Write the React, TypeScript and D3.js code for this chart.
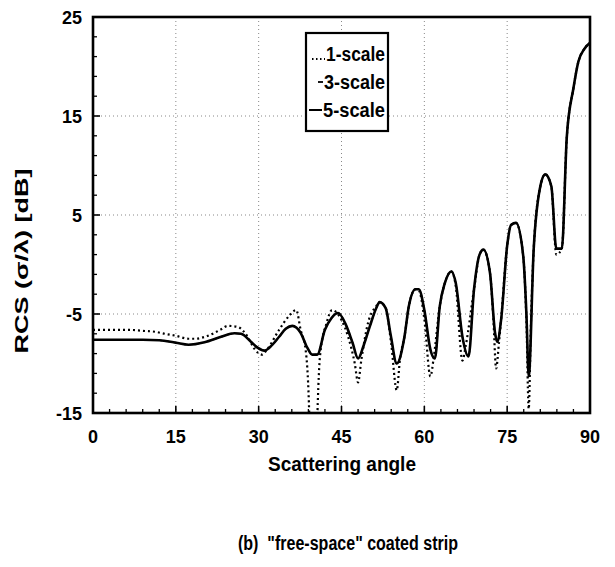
import React from 'react';
import * as d3 from 'd3';

const xTicks = [0, 15, 30, 45, 60, 75, 90];
const yTicks = [25, 15, 5, -5, -15];
const legendLabels = ['1-scale', '3-scale', '5-scale'];
const xTitle = 'Scattering angle';
const yTitle = 'RCS (\u03C3/\u03BB) [dB]';
const caption = '(b)\u00A0\u00A0"free-space" coated strip';

// 5-scale (solid) — 3-scale coincides with it in the picture
const angles5 = [0, 3, 6, 9, 12, 15, 17.3, 20.2, 23.2, 25.6, 26.8, 28.6, 29.8, 31.1, 32.5, 33.7, 34.9, 36.1, 37.6, 38.8, 39.7, 40.6, 42.0, 43.2, 44.4, 45.8, 47.0, 48.0, 49.0, 50.1, 51.3, 51.9, 53.0, 53.9, 55.0, 56.4, 57.2, 58.4, 59.0, 60.0, 61.1, 61.9, 62.8, 63.7, 64.9, 65.7, 66.9, 68.0, 69.0, 70.0, 70.7, 71.9, 72.8, 73.2, 73.9, 75.0, 75.7, 76.6, 77.9, 78.5, 78.9, 79.8, 80.9, 81.9, 83.0, 83.9, 84.9, 85.8, 87.0, 87.9, 89.0, 90.0];
const rcs5 = [-7.6, -7.6, -7.6, -7.6, -7.65, -7.9, -8.1, -7.85, -7.3, -6.95, -7.0, -7.8, -8.4, -8.7, -8.1, -7.3, -6.5, -6.2, -6.9, -8.4, -9.1, -9.1, -6.6, -5.4, -4.9, -6.1, -7.9, -9.5, -8.2, -6.3, -4.4, -3.8, -4.4, -7.1, -10.0, -7.3, -4.2, -2.5, -2.5, -4.6, -8.6, -9.5, -4.2, -1.9, -0.7, -1.9, -7.3, -9.3, -2.5, 1.0, 1.5, -0.9, -6.9, -7.8, -5.6, 1.9, 4.0, 4.2, 0.9, -5.2, -11.3, 1.5, 7.6, 9.1, 7.9, 1.6, 1.6, 12.9, 17.8, 20.5, 21.8, 22.4];
const rcs3 = [-7.6, -7.6, -7.6, -7.6, -7.65, -7.9, -8.1, -7.85, -7.3, -6.95, -7.0, -7.8, -8.4, -8.7, -8.1, -7.3, -6.5, -6.2, -6.9, -8.4, -9.1, -9.1, -6.6, -5.4, -4.9, -6.1, -7.9, -9.5, -8.2, -6.3, -4.4, -3.8, -4.4, -7.1, -10.0, -7.3, -4.2, -2.5, -2.5, -4.6, -8.6, -9.5, -4.2, -1.9, -0.7, -1.9, -7.3, -9.3, -2.5, 1.0, 1.5, -0.9, -6.9, -7.8, -5.6, 1.9, 4.0, 4.2, 0.9, -5.2, -11.3, 1.5, 7.6, 9.1, 7.9, 1.6, 1.6, 12.9, 17.8, 20.5, 21.8, 22.4];

// 1-scale (dotted)
const angles1 = [0, 3, 6.5, 9, 11.3, 13, 15, 17.3, 18.5, 20.8, 23.2, 24.4, 26.2, 28.0, 29.2, 30.6, 31.5, 33.7, 35.5, 36.8, 37.6, 38.5, 39.1, 39.4, 40.4, 40.7, 41.1, 42.3, 43.3, 45.0, 46.2, 47.4, 48.0, 48.6, 49.8, 51.3, 51.9, 53.0, 54.0, 55.0, 55.6, 56.4, 57.2, 58.4, 59.0, 60.0, 61.1, 61.7, 62.8, 63.7, 64.9, 65.7, 66.9, 67.5, 69.0, 70.0, 70.7, 71.9, 72.5, 73.0, 73.5, 73.9, 75.0, 75.7, 76.6, 77.9, 78.5, 78.9, 79.3, 79.8, 80.9, 81.9, 83.0, 83.9, 84.9, 85.8, 87.0, 87.9, 89.0, 90.0];
const rcs1 = [-6.6, -6.6, -6.6, -6.7, -6.8, -7.0, -7.2, -7.5, -7.5, -7.2, -6.55, -6.2, -6.3, -7.3, -8.5, -9.1, -8.6, -6.6, -5.2, -4.6, -6.6, -8.6, -14, -20, -20, -14, -9.3, -5.9, -4.6, -5.6, -7.3, -10.0, -11.9, -9.6, -5.9, -4.2, -3.8, -4.4, -8.0, -12.7, -9.5, -7.3, -4.2, -2.5, -2.6, -5.5, -11.3, -9.4, -4.2, -1.9, -0.7, -2.2, -9.7, -8.2, -2.5, 1.0, 1.5, -0.9, -5.5, -10.5, -8.0, -5.6, 1.9, 4.0, 4.2, 0.9, -6.0, -14.6, -6.0, 1.5, 7.6, 9.1, 7.9, 1.0, 1.6, 12.9, 17.8, 20.5, 21.8, 22.4];

const FONT = '"Liberation Sans", Arial, Helvetica, sans-serif';

export default function App() {
  const W = 615, H = 567;
  const L = 93, R = 590, T = 17, B = 413;
  const x = d3.scaleLinear().domain([0, 90]).range([L, R]);
  const y = d3.scaleLinear().domain([-15, 25]).range([B, T]);
  const line = d3
    .line<[number, number]>()
    .x((d) => x(d[0]))
    .y((d) => y(d[1]))
    .curve(d3.curveMonotoneX);
  const p5 = line(angles5.map((a, i) => [a, rcs5[i]] as [number, number])) || '';
  const p3 = line(angles5.map((a, i) => [a, rcs3[i]] as [number, number])) || '';
  const p1 = line(angles1.map((a, i) => [a, rcs1[i]] as [number, number])) || '';

  const xMinor = d3.range(0, 91, 3).filter((v) => v % 15 !== 0);
  const yMinor = d3.range(-15, 26, 2).filter((v) => !yTicks.includes(v));
  const gridX = xTicks.slice(1, -1);
  const gridY = yTicks.slice(1, -1);

  const legX = 306, legY = 33, legW = 82, legH = 98;
  const rowBase = [61, 89, 117];

  return (
    <svg width={W} height={H} style={{ position: 'absolute', left: 0, top: 0, background: '#fff' }} fontFamily={FONT}>
      <rect x={0} y={0} width={W} height={H} fill="#fff" />
      <defs>
        <clipPath id="plotclip">
          <rect x={L} y={T} width={R - L} height={B - T} />
        </clipPath>
      </defs>
      {/* grid */}
      {gridX.map((v) => (
        <line key={'gx' + v} x1={x(v)} x2={x(v)} y1={T} y2={B} stroke="#888" strokeWidth={1} strokeDasharray="1 3" />
      ))}
      {gridY.map((v) => (
        <line key={'gy' + v} x1={L} x2={R} y1={y(v)} y2={y(v)} stroke="#888" strokeWidth={1} strokeDasharray="1 3" />
      ))}
      {/* ticks */}
      {xTicks.map((v) => (
        <line key={'xt' + v} x1={x(v)} x2={x(v)} y1={B} y2={B - 7} stroke="#000" strokeWidth={1.6} />
      ))}
      {xMinor.map((v) => (
        <line key={'xm' + v} x1={x(v)} x2={x(v)} y1={B} y2={B - 4} stroke="#000" strokeWidth={1.3} />
      ))}
      {yTicks.map((v) => (
        <line key={'yt' + v} x1={L} x2={L + 7} y1={y(v)} y2={y(v)} stroke="#000" strokeWidth={1.6} />
      ))}
      {yMinor.map((v) => (
        <line key={'ym' + v} x1={L} x2={L + 4} y1={y(v)} y2={y(v)} stroke="#000" strokeWidth={1.3} />
      ))}
      {/* curves */}
      <g clipPath="url(#plotclip)" fill="none">
        <path d={p1} stroke="#000" strokeWidth={2.2} strokeDasharray="2 3" />
        <path d={p3} stroke="#000" strokeWidth={1.5} strokeDasharray="5 3" />
        <path d={p5} stroke="#000" strokeWidth={2.6} strokeLinejoin="round" />
      </g>
      {/* frame */}
      <rect x={L} y={T} width={R - L} height={B - T} fill="none" stroke="#000" strokeWidth={2.6} />
      {/* tick labels */}
      {xTicks.map((v) => (
        <text key={'xl' + v} x={x(v)} y={443} textAnchor="middle" fontSize={18} fontWeight="bold">
          {v}
        </text>
      ))}
      {yTicks.map((v) => (
        <text key={'yl' + v} x={82} y={y(v) + 6.5} textAnchor="end" fontSize={18} fontWeight="bold">
          {v}
        </text>
      ))}
      {/* axis titles */}
      <text x={342} y={471} textAnchor="middle" fontSize={19.5} fontWeight="bold" textLength={148} lengthAdjust="spacingAndGlyphs">
        {xTitle}
      </text>
      <text
        transform="translate(28,261) rotate(-90)"
        textAnchor="middle"
        fontSize={19}
        fontWeight="bold"
        textLength={185}
        lengthAdjust="spacingAndGlyphs"
      >
        {yTitle}
      </text>
      {/* legend */}
      <rect x={legX} y={legY} width={legW} height={legH} fill="#fff" stroke="#000" strokeWidth={2.2} />
      <line x1={312} x2={325} y1={rowBase[0] - 2} y2={rowBase[0] - 2} stroke="#000" strokeWidth={2} strokeDasharray="1.5 2.5" />
      <line x1={318} x2={323} y1={rowBase[1] - 7} y2={rowBase[1] - 7} stroke="#000" strokeWidth={1.8} />
      <line x1={309} x2={322} y1={rowBase[2] - 7} y2={rowBase[2] - 7} stroke="#000" strokeWidth={2} />
      {legendLabels.map((t, i) => (
        <text key={t} x={[326, 324, 323][i]} y={rowBase[i]} fontSize={20} fontWeight="bold" textLength={[59, 61, 62][i]} lengthAdjust="spacingAndGlyphs">
          {t}
        </text>
      ))}
      {/* caption */}
      <text x={348} y={550} textAnchor="middle" fontSize={20} fontWeight="bold" textLength={220} lengthAdjust="spacingAndGlyphs">
        {caption}
      </text>
    </svg>
  );
}
